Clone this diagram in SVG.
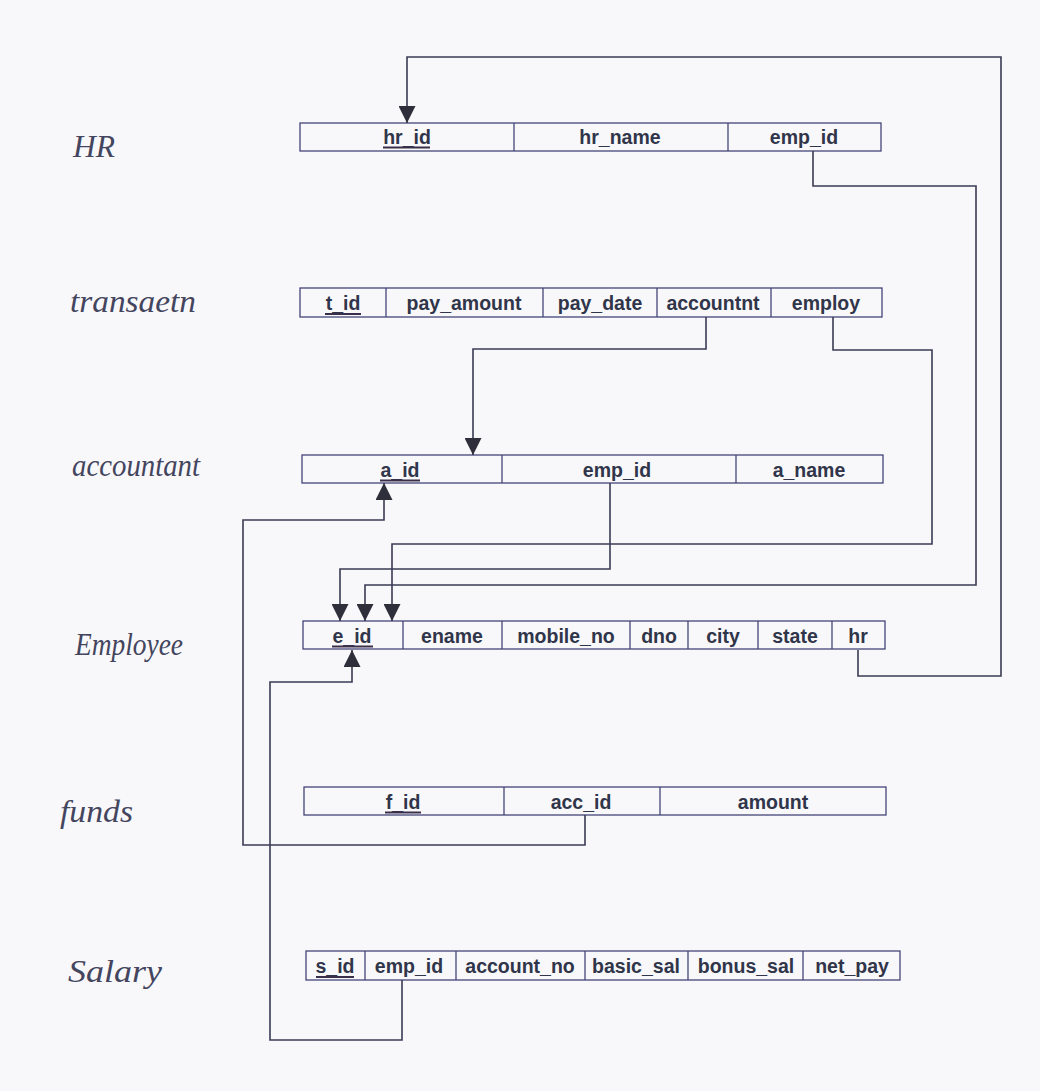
<svg xmlns="http://www.w3.org/2000/svg" width="1040" height="1091" viewBox="0 0 1040 1091">
<defs>
<marker id="arr" viewBox="0 0 10 10" refX="10" refY="5" orient="auto" markerUnits="userSpaceOnUse" markerWidth="17" markerHeight="17">
<path d="M0,0 L10,5 L0,10 z" fill="#2f2f3c"/>
</marker>
<style>
.bg{fill:#f8f8fa}
.tb{fill:none;stroke:#44447a;stroke-width:1.3}
.dv{stroke:#44447a;stroke-width:1.3}
.t{font-family:"Liberation Sans",Arial,sans-serif;font-weight:bold;font-size:19.5px;fill:#30354a;text-anchor:middle}
.ul{stroke:#3a2f4a;stroke-width:2}
.lb{font-family:"Liberation Serif","DejaVu Serif",serif;font-style:italic;font-size:32px;fill:#44455e}
.c{fill:none;stroke:#3b3b55;stroke-width:1.6;marker-end:url(#arr)}
</style>
</defs>
<rect class="bg" x="0" y="0" width="1040" height="1091"/>

<g id="labels">
<text class="lb" x="73" y="157" font-size="34" textLength="42" lengthAdjust="spacingAndGlyphs">HR</text>
<text class="lb" x="70" y="312" textLength="126" lengthAdjust="spacingAndGlyphs">transaetn</text>
<text class="lb" x="72" y="476" textLength="128" lengthAdjust="spacingAndGlyphs">accountant</text>
<text class="lb" x="75" y="655" textLength="108" lengthAdjust="spacingAndGlyphs">Employee</text>
<text class="lb" x="60" y="822" textLength="73" lengthAdjust="spacingAndGlyphs">funds</text>
<text class="lb" x="68" y="982" font-size="34" textLength="94" lengthAdjust="spacingAndGlyphs">Salary</text>
</g>

<g id="hr">
<rect class="tb" x="300" y="123" width="581" height="28"/>
<line class="dv" x1="514" y1="123" x2="514" y2="151"/>
<line class="dv" x1="728" y1="123" x2="728" y2="151"/>
<text class="t" x="407" y="143.5">hr_id</text>
<line class="ul" x1="383" y1="147.5" x2="430" y2="147.5"/>
<text class="t" x="620" y="143.5">hr_name</text>
<text class="t" x="804" y="143.5">emp_id</text>
</g>

<g id="transaction">
<rect class="tb" x="300" y="288" width="582" height="29"/>
<line class="dv" x1="386" y1="288" x2="386" y2="317"/>
<line class="dv" x1="543" y1="288" x2="543" y2="317"/>
<line class="dv" x1="657" y1="288" x2="657" y2="317"/>
<line class="dv" x1="771" y1="288" x2="771" y2="317"/>
<text class="t" x="343" y="309.5">t_id</text>
<line class="ul" x1="325" y1="314" x2="361" y2="314"/>
<text class="t" x="464" y="309.5">pay_amount</text>
<text class="t" x="600" y="309.5">pay_date</text>
<text class="t" x="713" y="309.5">accountnt</text>
<text class="t" x="826" y="309.5">employ</text>
</g>

<g id="accountant">
<rect class="tb" x="302" y="455" width="581" height="28"/>
<line class="dv" x1="502" y1="455" x2="502" y2="483"/>
<line class="dv" x1="736" y1="455" x2="736" y2="483"/>
<text class="t" x="400" y="476.5">a_id</text>
<line class="ul" x1="380" y1="480.5" x2="420" y2="480.5"/>
<text class="t" x="617" y="476.5">emp_id</text>
<text class="t" x="809" y="476.5">a_name</text>
</g>

<g id="employee">
<rect class="tb" x="303" y="621" width="582" height="28"/>
<line class="dv" x1="403" y1="621" x2="403" y2="649"/>
<line class="dv" x1="502" y1="621" x2="502" y2="649"/>
<line class="dv" x1="630" y1="621" x2="630" y2="649"/>
<line class="dv" x1="688" y1="621" x2="688" y2="649"/>
<line class="dv" x1="758" y1="621" x2="758" y2="649"/>
<line class="dv" x1="832" y1="621" x2="832" y2="649"/>
<text class="t" x="352" y="642.5">e_id</text>
<line class="ul" x1="332" y1="646.5" x2="373" y2="646.5"/>
<text class="t" x="452" y="642.5">ename</text>
<text class="t" x="566" y="642.5">mobile_no</text>
<text class="t" x="659" y="642.5">dno</text>
<text class="t" x="723" y="642.5">city</text>
<text class="t" x="795" y="642.5">state</text>
<text class="t" x="858" y="642.5">hr</text>
</g>

<g id="funds">
<rect class="tb" x="304" y="787" width="582" height="28"/>
<line class="dv" x1="504" y1="787" x2="504" y2="815"/>
<line class="dv" x1="660" y1="787" x2="660" y2="815"/>
<text class="t" x="403" y="808.5">f_id</text>
<line class="ul" x1="385" y1="812.5" x2="421" y2="812.5"/>
<text class="t" x="581" y="808.5">acc_id</text>
<text class="t" x="773" y="808.5">amount</text>
</g>

<g id="salary">
<rect class="tb" x="306" y="951" width="594" height="29"/>
<line class="dv" x1="365" y1="951" x2="365" y2="980"/>
<line class="dv" x1="456" y1="951" x2="456" y2="980"/>
<line class="dv" x1="585" y1="951" x2="585" y2="980"/>
<line class="dv" x1="688" y1="951" x2="688" y2="980"/>
<line class="dv" x1="803" y1="951" x2="803" y2="980"/>
<text class="t" x="335" y="972.5">s_id</text>
<line class="ul" x1="316" y1="977" x2="354" y2="977"/>
<text class="t" x="409" y="972.5">emp_id</text>
<text class="t" x="520" y="972.5">account_no</text>
<text class="t" x="636" y="972.5">basic_sal</text>
<text class="t" x="746" y="972.5">bonus_sal</text>
<text class="t" x="852" y="972.5">net_pay</text>
</g>

<g id="connectors">
<path class="c" d="M858,650 V676 H1001 V57 H407 V123"/>
<path class="c" d="M813,151 V186 H976 V585 H365 V621"/>
<path class="c" d="M706,317 V349 H473 V455"/>
<path class="c" d="M833,317 V350 H932 V544 H392 V621"/>
<path class="c" d="M610,483 V569 H340 V621"/>
<path class="c" d="M585,815 V845 H243 V520 H384 V483"/>
<path class="c" d="M402,980 V1040 H270 V682 H352 V650"/>
</g>
</svg>
